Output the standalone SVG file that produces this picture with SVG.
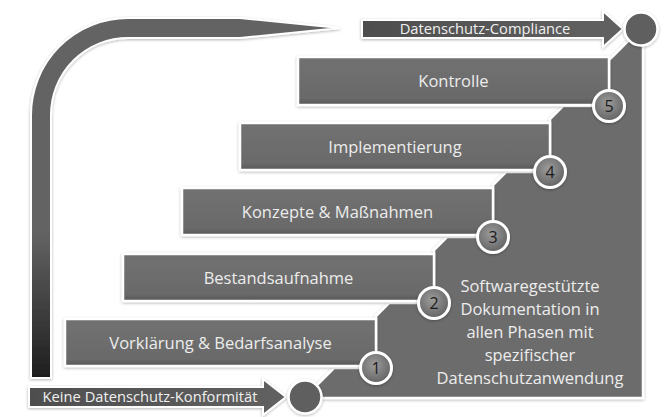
<svg xmlns="http://www.w3.org/2000/svg" width="672" height="417" viewBox="0 0 672 417">
<defs>
  <filter id="sh" x="-15%" y="-15%" width="130%" height="140%">
    <feGaussianBlur in="SourceAlpha" stdDeviation="1.8" result="b"/>
    <feOffset in="b" dx="0" dy="0.8" result="o"/>
    <feComponentTransfer in="o" result="s"><feFuncA type="linear" slope="0.3"/></feComponentTransfer>
    <feMerge><feMergeNode in="s"/><feMergeNode in="SourceGraphic"/></feMerge>
  </filter>
  <linearGradient id="boxg" x1="0" y1="0" x2="0" y2="1">
    <stop offset="0" stop-color="#717171"/><stop offset="0.85" stop-color="#6a6a6a"/><stop offset="1" stop-color="#575757"/>
  </linearGradient>
  <linearGradient id="barg" gradientUnits="userSpaceOnUse" x1="0" y1="230" x2="0" y2="378">
    <stop offset="0" stop-color="#646464"/><stop offset="1" stop-color="#1e1e1e"/>
  </linearGradient>
  <linearGradient id="arrg" x1="0" y1="0" x2="1" y2="0">
    <stop offset="0" stop-color="#4e4e4e"/><stop offset="1" stop-color="#616161"/>
  </linearGradient>
  <radialGradient id="circg" cx="0.45" cy="0.4" r="0.65">
    <stop offset="0" stop-color="#9c9c9c"/><stop offset="1" stop-color="#5e5e5e"/>
  </radialGradient>
</defs>
<style>
  .box{fill:url(#boxg);stroke:#ffffff;stroke-width:2.5;filter:url(#sh)}
  .lbl{font-family:"Open Sans",sans-serif;font-size:16.5px;fill:#ececec;text-anchor:middle}
  .num{fill:url(#circg);stroke:#ffffff;stroke-width:3;filter:url(#sh)}
  .dig{font-family:"Open Sans",sans-serif;font-size:16px;fill:#1c1c1c;text-anchor:middle}
  .big{fill:#5e5e5e;stroke:#ffffff;stroke-width:2.5;filter:url(#sh)}
  .arr{fill:url(#arrg);stroke:#ffffff;stroke-width:2;filter:url(#sh)}
  .atxt{font-family:"Open Sans",sans-serif;font-size:14.7px;fill:#f0f0f0;text-anchor:middle}
  .note{font-family:"Open Sans",sans-serif;font-size:16.5px;fill:#ececec;text-anchor:middle}
</style>

<g id="connectors">
  <path id="progress-arrow" d="M31,378 L31,115 A97,97 0 0 1 128,18 L240,18 L340,28 L240,38 L128,38 A77,77 0 0 0 51,115 L51,378 Z" fill="url(#barg)" stroke="#ffffff" stroke-width="2" filter="url(#sh)"/>
</g>

<g id="staircase">
  <polygon points="305,397 334,368 376,368 376,316 389,303 434,303 434,250 447,237 493,237 493,185 506,172 550,172 550,119 563,106 609,106 609,60 640,29 643,29 643,398 305,398" fill="#6c6c6c" stroke="#ffffff" stroke-width="2.5" filter="url(#sh)"/>
  <g id="note">
    <text class="note" x="530" y="292">Softwaregestützte</text>
    <text class="note" x="530" y="315">Dokumentation in</text>
    <text class="note" x="530" y="338">allen Phasen mit</text>
    <text class="note" x="530" y="361">spezifischer</text>
    <text class="note" x="530" y="384">Datenschutzanwendung</text>
  </g>
</g>

<g id="step1">
  <rect class="box" x="65" y="319" width="311" height="47"/>
  <text class="lbl" x="220.5" y="348.5">Vorklärung &amp; Bedarfsanalyse</text>
</g>
<g id="step2">
  <rect class="box" x="123" y="254" width="311" height="47"/>
  <text class="lbl" x="278.5" y="283.5">Bestandsaufnahme</text>
</g>
<g id="step3">
  <rect class="box" x="182" y="188" width="311" height="47"/>
  <text class="lbl" x="337.5" y="217.5">Konzepte &amp; Maßnahmen</text>
</g>
<g id="step4">
  <rect class="box" x="240" y="123" width="310" height="47"/>
  <text class="lbl" x="395" y="152.5">Implementierung</text>
</g>
<g id="step5">
  <rect class="box" x="298" y="57" width="311" height="48"/>
  <text class="lbl" x="453.5" y="87">Kontrolle</text>
</g>

<g id="marker1"><circle class="num" cx="376" cy="368" r="15.5"/><text class="dig" x="376" y="373.5">1</text></g>
<g id="marker2"><circle class="num" cx="434" cy="303" r="15.5"/><text class="dig" x="434" y="308.5">2</text></g>
<g id="marker3"><circle class="num" cx="493" cy="237" r="15.5"/><text class="dig" x="493" y="242.5">3</text></g>
<g id="marker4"><circle class="num" cx="550" cy="172" r="15.5"/><text class="dig" x="550" y="177.5">4</text></g>
<g id="marker5"><circle class="num" cx="609" cy="106" r="15.5"/><text class="dig" x="609" y="111.5">5</text></g>

<g id="start">
  <path class="arr" d="M29,387 L263,387 L263,379 L286,397 L263,415 L263,407 L29,407 Z"/>
  <text class="atxt" x="150" y="402">Keine Datenschutz-Konformität</text>
  <circle class="big" cx="305" cy="397" r="16.5"/>
</g>

<g id="goal">
  <path class="arr" d="M362,20 L603,20 L603,11 L623,29 L603,47 L603,38 L362,38 Z"/>
  <text class="atxt" x="485" y="34">Datenschutz-Compliance</text>
  <circle class="big" cx="641" cy="29" r="16.5"/>
</g>
</svg>
